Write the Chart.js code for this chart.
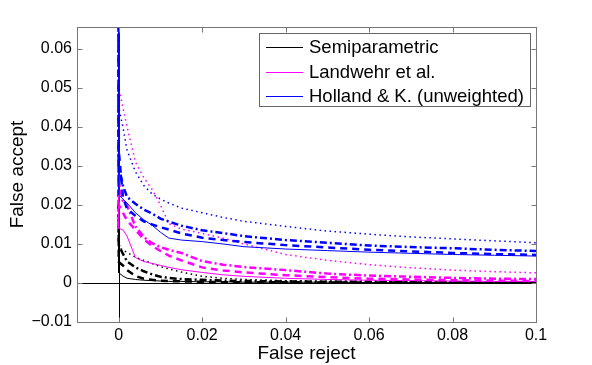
<!DOCTYPE html>
<html>
<head>
    <title>False accept vs false reject</title>
    <script src="https://cdn.jsdelivr.net/npm/chart.js"></script>
    <style>
        html, body { margin: 0; padding: 0; background: #fff; }
        #wrap { width: 592px; height: 365px; }
    </style>
</head>
<body>
<div id="wrap"><canvas id="rocChart"></canvas></div>
<script>
    // false reject grid (first two points: vertical segment at x = 0)
    const falseReject = [0, 0, 0.001, 0.002, 0.004, 0.006, 0.008, 0.01, 0.012, 0.015, 0.02, 0.025, 0.03, 0.04, 0.05, 0.06, 0.07, 0.08, 0.09, 0.1];

    // Holland & K. (unweighted) - blue
    const hollandSolid   = [0.07, 0.0226, 0.0215, 0.0205, 0.018, 0.0162, 0.0148, 0.013, 0.0115, 0.011, 0.0106, 0.01, 0.0093, 0.0087, 0.0083, 0.0079, 0.0076, 0.0073, 0.0071, 0.0069];
    const hollandDashed  = [0.07, 0.034, 0.022, 0.019, 0.0172, 0.0158, 0.015, 0.0143, 0.0137, 0.0127, 0.0116, 0.011, 0.0105, 0.0097, 0.0091, 0.0085, 0.0081, 0.0077, 0.0074, 0.0072];
    const hollandDashDot = [0.07, 0.03, 0.025, 0.022, 0.0203, 0.0188, 0.0178, 0.0165, 0.0157, 0.0147, 0.0135, 0.0128, 0.012, 0.011, 0.0103, 0.0096, 0.0092, 0.0089, 0.0085, 0.0082];
    const hollandDotted  = [0.07, 0.045, 0.04, 0.034, 0.0285, 0.025, 0.0228, 0.0215, 0.0205, 0.0192, 0.018, 0.0168, 0.0158, 0.0145, 0.0133, 0.0125, 0.0118, 0.0113, 0.0108, 0.0103];

    // Landwehr et al. - magenta
    const landwehrSolid   = [0.07, 0.014, 0.0136, 0.012, 0.0065, 0.0055, 0.005, 0.0045, 0.004, 0.0034, 0.0027, 0.0021, 0.0017, 0.0012, 0.0009, 0.0007, 0.0006, 0.0005, 0.0004, 0.0004];
    const landwehrDashed  = [0.07, 0.02, 0.018, 0.016, 0.0136, 0.0112, 0.0095, 0.0082, 0.007, 0.0058, 0.004, 0.0032, 0.0027, 0.002, 0.0015, 0.0011, 0.0009, 0.0007, 0.0006, 0.0005];
    const landwehrDashDot = [0.07, 0.026, 0.021, 0.0198, 0.0145, 0.0118, 0.0102, 0.0092, 0.0085, 0.0077, 0.0056, 0.0047, 0.0041, 0.0033, 0.0024, 0.0019, 0.0016, 0.0013, 0.0011, 0.001];
    const landwehrDotted  = [0.07, 0.05, 0.045, 0.04, 0.031, 0.027, 0.024, 0.02, 0.0152, 0.0138, 0.0127, 0.0115, 0.01, 0.0073, 0.0058, 0.0047, 0.0039, 0.0033, 0.0029, 0.0026];

    // Semiparametric - black
    const semiSolid   = [0.07, 0.0026, 0.0018, 0.0012, 0.0009, 0.0007, 0.0006, 0.0005, 0.0004, 0.0004, 0.0003, 0.0003, 0.0002, 0.0002, 0.0002, 0.0001, 0.0001, 0.0001, 0.0001, 0.0001];
    const semiDashed  = [0.07, 0.0054, 0.0045, 0.0033, 0.0018, 0.0011, 0.0008, 0.0006, 0.0005, 0.0004, 0.0003, 0.0002, 0.0002, 0.0002, 0.0001, 0.0001, 0.0001, 0.0001, 0.0001, 0.0001];
    const semiDashDot = [0.07, 0.0097, 0.0075, 0.0055, 0.004, 0.003, 0.0022, 0.0016, 0.0013, 0.001, 0.0008, 0.0006, 0.0005, 0.0004, 0.0003, 0.0003, 0.0002, 0.0002, 0.0002, 0.0002];
    const semiDotted  = [0.07, 0.009, 0.0085, 0.0078, 0.0066, 0.0058, 0.005, 0.0042, 0.0036, 0.0028, 0.0017, 0.0012, 0.0009, 0.0006, 0.0005, 0.0004, 0.0004, 0.0003, 0.0003, 0.0003];

    const xTicks = [0, 0.02, 0.04, 0.06, 0.08, 0.1];
    const yTicks = [-0.01, 0, 0.01, 0.02, 0.03, 0.04, 0.05, 0.06];
    const legendLabels = ['Semiparametric', 'Landwehr et al.', 'Holland & K. (unweighted)'];

    const BLUE = 'rgb(0,0,255)', MAGENTA = 'rgb(255,0,255)', BLACK = 'rgb(0,0,0)';
    const FONT = '"Liberation Sans", Arial, Helvetica, sans-serif';

    const styles = {
        solid:   { width: 1,   dash: [] },
        dashed:  { width: 2.5, dash: [7, 5] },
        dashdot: { width: 2.5, dash: [7, 3, 2, 3] },
        dotted:  { width: 1.5, dash: [1.5, 3.5] }
    };

    function pts(ys) {
        return ys.map((y, i) => ({ x: falseReject[i], y: y }));
    }

    function series(ys, color, style) {
        const s = styles[style];
        return {
            data: pts(ys),
            borderColor: color,
            backgroundColor: color,
            borderWidth: s.width,
            borderDash: s.dash,
            showLine: true,
            pointRadius: 0,
            tension: 0,
            fill: false
        };
    }

    // index 0 is painted last, so blue ends up on top like the original
    const datasets = [
        series(hollandSolid, BLUE, 'solid'),
        series(hollandDashed, BLUE, 'dashed'),
        series(hollandDashDot, BLUE, 'dashdot'),
        series(hollandDotted, BLUE, 'dotted'),
        series(landwehrSolid, MAGENTA, 'solid'),
        series(landwehrDashed, MAGENTA, 'dashed'),
        series(landwehrDashDot, MAGENTA, 'dashdot'),
        series(landwehrDotted, MAGENTA, 'dotted'),
        series(semiSolid, BLACK, 'solid'),
        series(semiDashed, BLACK, 'dashed'),
        series(semiDashDot, BLACK, 'dashdot'),
        series(semiDotted, BLACK, 'dotted')
    ];

    function fmt(v) {
        if (Math.abs(v) < 1e-12) return '0';
        let s = String(parseFloat(v.toFixed(4)));
        return v < 0 ? '\u2212' + s.slice(1) : s;
    }

    // zero lines under the data
    const zeroLines = {
        id: 'zeroLines',
        beforeDatasetsDraw(chart) {
            const { ctx, chartArea: a, scales: { x, y } } = chart;
            ctx.save();
            ctx.strokeStyle = '#000';
            ctx.lineWidth = 1;
            const x0 = Math.round(x.getPixelForValue(0)) + 0.5;
            const y0 = Math.round(y.getPixelForValue(0)) + 0.5;
            ctx.beginPath();
            ctx.moveTo(a.left, y0); ctx.lineTo(a.right, y0);
            ctx.moveTo(x0, a.top); ctx.lineTo(x0, a.bottom);
            ctx.stroke();
            ctx.restore();
        }
    };

    // matlab style box, inward ticks, legend
    const boxAndLegend = {
        id: 'boxAndLegend',
        afterDraw(chart) {
            const { ctx, chartArea: a, scales: { x, y } } = chart;
            ctx.save();
            ctx.strokeStyle = '#777';
            ctx.lineWidth = 1;
            const L = Math.round(a.left) + 0.5, R = Math.round(a.right) + 0.5;
            const T = Math.round(a.top) + 0.5, B = Math.round(a.bottom) + 0.5;
            ctx.strokeRect(L, T, R - L, B - T);
            const tl = 5;
            ctx.beginPath();
            xTicks.forEach(v => {
                const px = Math.round(x.getPixelForValue(v)) + 0.5;
                ctx.moveTo(px, B); ctx.lineTo(px, B - tl);
                ctx.moveTo(px, T); ctx.lineTo(px, T + tl);
            });
            yTicks.forEach(v => {
                const py = Math.round(y.getPixelForValue(v)) + 0.5;
                ctx.moveTo(L, py); ctx.lineTo(L + tl, py);
                ctx.moveTo(R, py); ctx.lineTo(R - tl, py);
            });
            ctx.stroke();

            // legend
            const lx = 259.5, ly = 33.5, lw = 271, lh = 73;
            ctx.fillStyle = '#fff';
            ctx.fillRect(lx, ly, lw, lh);
            ctx.strokeStyle = '#666';
            ctx.strokeRect(lx, ly, lw, lh);
            const colors = [BLACK, MAGENTA, BLUE];
            ctx.font = '18.5px ' + FONT;
            ctx.textBaseline = 'middle';
            ctx.textAlign = 'left';
            legendLabels.forEach((t, i) => {
                const cy = 47 + i * 24.5;
                ctx.strokeStyle = colors[i];
                ctx.lineWidth = 1;
                ctx.beginPath();
                ctx.moveTo(266, Math.round(cy) + 0.5);
                ctx.lineTo(303, Math.round(cy) + 0.5);
                ctx.stroke();
                ctx.fillStyle = '#000';
                ctx.fillText(t, 309, cy + 1);
            });
            ctx.restore();
        }
    };

    const data = { datasets };

    const options = {
        responsive: false,
        animation: false,
        layout: { padding: { top: 27, right: 56, left: 0, bottom: 0 } },
        plugins: {
            legend: { display: false },
            tooltip: { enabled: false }
        },
        scales: {
            x: {
                type: 'linear',
                min: -0.01,
                max: 0.1,
                afterBuildTicks: s => { s.ticks = xTicks.map(v => ({ value: v })); },
                afterFit: s => { s.height = 43; },
                grid: { display: false, drawTicks: false },
                border: { display: false },
                ticks: {
                    color: '#000',
                    padding: 4,
                    maxRotation: 0,
                    autoSkip: false,
                    font: { family: FONT, size: 16 },
                    callback: v => fmt(v)
                },
                title: {
                    display: true,
                    text: 'False reject',
                    color: '#000',
                    font: { family: FONT, size: 19 },
                    padding: { top: 0, bottom: 0 }
                }
            },
            y: {
                type: 'linear',
                min: -0.01,
                max: 0.0656,
                afterBuildTicks: s => { s.ticks = yTicks.map(v => ({ value: v })); },
                afterFit: s => { s.width = 77; },
                grid: { display: false, drawTicks: false },
                border: { display: false },
                ticks: {
                    color: '#000',
                    padding: 5,
                    autoSkip: false,
                    font: { family: FONT, size: 16 },
                    callback: v => fmt(v)
                },
                title: {
                    display: true,
                    text: 'False accept',
                    color: '#000',
                    font: { family: FONT, size: 19 },
                    padding: { top: 6, bottom: 0 }
                }
            }
        }
    };

    const chartEl = document.getElementById('rocChart');
    chartEl.width = 592;
    chartEl.height = 365;
    const ctx = chartEl.getContext('2d');
    new Chart(ctx, { type: 'scatter', data, options, plugins: [zeroLines, boxAndLegend] });
</script>
</body>
</html>
